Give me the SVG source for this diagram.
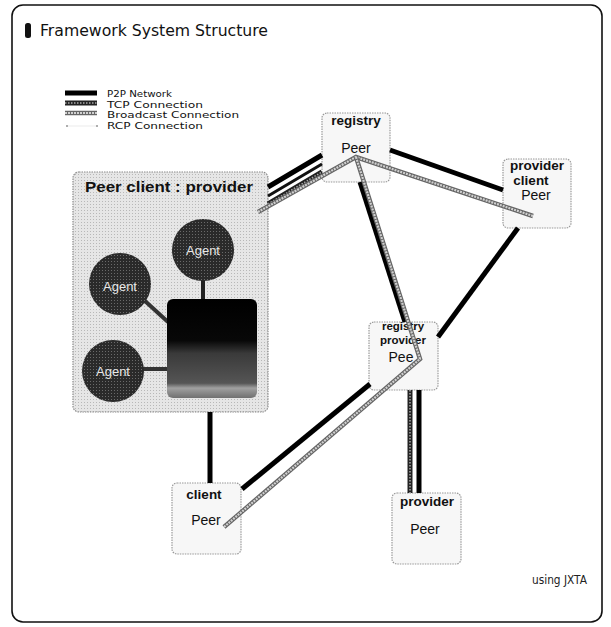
<svg xmlns="http://www.w3.org/2000/svg" width="611" height="627" viewBox="0 0 611 627">
<defs>
<linearGradient id="boxg" x1="0" y1="0" x2="0" y2="1">
<stop offset="0" stop-color="#000"/>
<stop offset="0.42" stop-color="#080808"/>
<stop offset="0.55" stop-color="#3a3a3a"/>
<stop offset="0.85" stop-color="#555"/>
<stop offset="0.9" stop-color="#a0a0a0"/>
<stop offset="1" stop-color="#707070"/>
</linearGradient>
<pattern id="dots" width="3" height="3" patternUnits="userSpaceOnUse">
<rect width="3" height="3" fill="#e6e6e6"/>
<rect width="1" height="1" fill="#b8b8b8"/>
</pattern>
<pattern id="adots" width="3" height="3" patternUnits="userSpaceOnUse">
<rect width="3" height="3" fill="#2a2a2a"/>
<rect width="1" height="1" fill="#6a6a6a"/>
</pattern>
</defs>
<style>
.frame{fill:#fff;stroke:#111;stroke-width:1.6}
.ttl{font-family:"DejaVu Sans","Liberation Sans",sans-serif;font-size:16px;fill:#111}
.leg{font-family:"DejaVu Sans","Liberation Sans",sans-serif;font-size:9.5px;fill:#111}
.node{fill:#f7f7f7;stroke:#9a9a9a;stroke-width:1.2;stroke-dasharray:1.5,1}
.bold{font-family:"Liberation Sans",Arial,sans-serif;font-weight:bold;font-size:13.5px;fill:#111;text-anchor:middle}
.small{font-size:11.5px}
.reg{font-family:"Liberation Sans",Arial,sans-serif;font-size:14px;fill:#111;text-anchor:middle}
.agent{fill:url(#adots)}
.atxt{font-family:"Liberation Sans",Arial,sans-serif;font-size:13px;fill:#e8e8e8;text-anchor:middle}
.p2p{stroke:#000;stroke-width:5;fill:none}
.thin{stroke:#111;stroke-width:3;fill:none}
.tcpa{stroke:#222;stroke-width:5;fill:none}
.tcpb{stroke:#aaa;stroke-width:1.5;stroke-dasharray:1.5,1.5;fill:none}
.bca{stroke:#666;stroke-width:4.5;fill:none}
.bcb{stroke:#d0d0d0;stroke-width:2.2;stroke-dasharray:2,1;fill:none}
</style>
<rect class="frame" x="12" y="5" width="590" height="617" rx="11"/>
<rect x="25" y="23" width="6" height="15" rx="2.5" fill="#111"/>
<text class="ttl" x="40" y="36" textLength="228" lengthAdjust="spacingAndGlyphs">Framework System Structure</text>
<g id="legend">
<line class="p2p" x1="65" y1="93" x2="97" y2="93"/>
<line class="tcpa" x1="65" y1="103" x2="97" y2="103"/>
<line class="tcpb" x1="65" y1="103" x2="97" y2="103"/>
<line class="bca" x1="65" y1="113" x2="97" y2="113"/>
<line class="bcb" x1="65" y1="113" x2="97" y2="113"/>
<line x1="66" y1="126" x2="98" y2="126" stroke="#f2f2f2" stroke-width="1.5"/>
<circle cx="67" cy="126" r="0.8" fill="#555"/>
<circle cx="97" cy="126" r="0.8" fill="#555"/>
<text class="leg" x="107" y="97" textLength="65" lengthAdjust="spacingAndGlyphs">P2P Network</text>
<text class="leg" x="107" y="107.5" textLength="96" lengthAdjust="spacingAndGlyphs">TCP Connection</text>
<text class="leg" x="107" y="118" textLength="132" lengthAdjust="spacingAndGlyphs">Broadcast Connection</text>
<text class="leg" x="107" y="128.5" textLength="96" lengthAdjust="spacingAndGlyphs">RCP Connection</text>
</g>
<g id="peer-main">
<rect x="73" y="172" width="195" height="240" rx="6" fill="url(#dots)" stroke="#8a8a8a" stroke-width="1.2" stroke-dasharray="1.5,1"/>
<text x="85" y="192" font-family="Liberation Sans,Arial,sans-serif" font-weight="bold" font-size="15" fill="#111" textLength="168" lengthAdjust="spacingAndGlyphs">Peer  client : provider</text>
<line x1="203" y1="280" x2="203" y2="300" stroke="#222" stroke-width="4"/>
<line x1="145" y1="301" x2="168" y2="322" stroke="#333" stroke-width="4"/>
<line x1="142" y1="369" x2="168" y2="369" stroke="#333" stroke-width="4"/>
<rect x="167" y="299" width="90" height="99" rx="6" fill="url(#boxg)"/>
</g>
<g id="agent1"><circle class="agent" cx="203" cy="250" r="31"/><text class="atxt" x="203" y="255">Agent</text></g>
<g id="agent2"><circle class="agent" cx="120" cy="284" r="31"/><text class="atxt" x="120" y="291">Agent</text></g>
<g id="agent3"><circle class="agent" cx="113" cy="371" r="31"/><text class="atxt" x="113" y="376">Agent</text></g>
<g id="registry">
<rect class="node" x="322" y="113" width="68" height="69" rx="5"/>
<text class="bold" x="356" y="125">registry</text>
<text class="reg" x="356" y="153">Peer</text>
</g>
<g id="provider-client">
<rect class="node" x="503" y="159" width="68" height="69" rx="5"/>
<text class="bold" x="537" y="170">provider</text>
<text class="bold" x="531" y="185">client</text>
<text class="reg" x="536" y="200">Peer</text>
</g>
<g id="registry-provider">
<rect class="node" x="369" y="322" width="69" height="68" rx="5"/>
<text class="bold small" x="403" y="330">registry</text>
<text class="bold small" x="403" y="344">provider</text>
<text class="reg" x="401" y="362">Pee</text>
</g>
<g id="client">
<rect class="node" x="172" y="483" width="69" height="71" rx="5"/>
<text class="bold" x="204" y="499">client</text>
<text class="reg" x="206" y="525">Peer</text>
</g>
<g id="provider">
<rect class="node" x="392" y="493" width="69" height="71" rx="5"/>
<text class="bold" x="427" y="506">provider</text>
<text class="reg" x="425" y="534">Peer</text>
</g>
<g id="connectors">
<line class="p2p" x1="268" y1="187" x2="322" y2="155"/>
<line class="thin" x1="268" y1="196" x2="322" y2="164"/>
<line class="tcpa" x1="268" y1="204" x2="322" y2="172"/>
<line class="tcpb" x1="268" y1="204" x2="322" y2="172"/>
<polyline class="bca" points="258,212 356,157 533,216"/>
<polyline class="bcb" points="258,212 356,157 533,216"/>
<line class="p2p" x1="390" y1="150" x2="503" y2="190"/>
<line class="p2p" x1="518" y1="228" x2="438" y2="337"/>
<line class="p2p" x1="360" y1="182" x2="405" y2="322"/>
<polyline class="bca" points="356,157 420,359 224,527"/>
<polyline class="bcb" points="356,157 420,359 224,527"/>
<line class="p2p" x1="370" y1="384" x2="242" y2="489"/>
<line class="p2p" x1="210" y1="412" x2="210" y2="483"/>
<line class="tcpa" x1="410" y1="390" x2="410" y2="493"/>
<line class="tcpb" x1="410" y1="390" x2="410" y2="493"/>
<line class="p2p" x1="419" y1="390" x2="419" y2="493"/>
</g>
<text x="532" y="584" font-family="DejaVu Sans,Liberation Sans,sans-serif" font-size="12" fill="#222" textLength="55" lengthAdjust="spacingAndGlyphs">using JXTA</text>
</svg>
